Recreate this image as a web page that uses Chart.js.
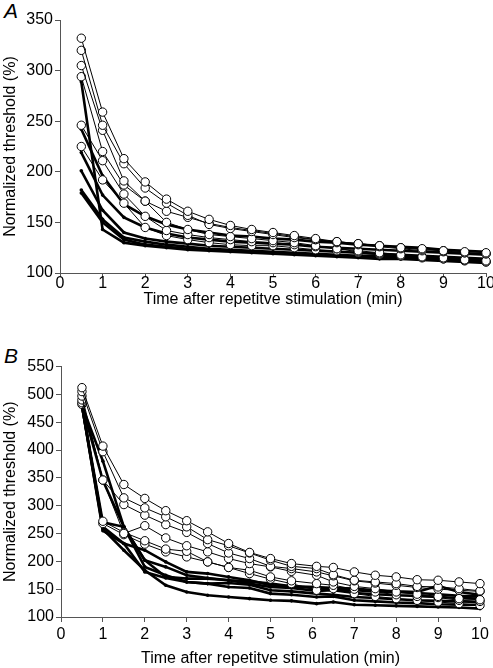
<!DOCTYPE html>
<html><head><meta charset="utf-8">
<script src="https://cdn.jsdelivr.net/npm/chart.js@4/dist/chart.umd.min.js"></script>
<style>
html,body{margin:0;padding:0;background:#fff;}
body{width:493px;height:668px;position:relative;overflow:hidden;font-family:"Liberation Sans",Arial,sans-serif;}
canvas{position:absolute;left:0;}
.lab{position:absolute;font-style:italic;font-size:21px;left:4px;line-height:1;color:#000;}
</style></head><body>
<div class="lab" style="top:0px">A</div>
<canvas id="cA" width="493" height="310" style="top:0"></canvas>
<div class="lab" style="top:345px">B</div>
<canvas id="cB" width="493" height="328" style="top:340px"></canvas>
<script>
// ---- data ----
const xTicks = [0,1,2,3,4,5,6,7,8,9,10];
const yTicksA = [100,150,200,250,300,350];
const yTicksB = [100,150,200,250,300,350,400,450,500,550];
const xTitle = "Time after repetitve stimulation (min)";
const yTitle = "Normalized threshold (%)";

const timesA = [0.5,1,1.5,2,2.5,3,3.5,4,4.5,5,5.5,6,6.5,7,7.5,8,8.5,9,9.5,10];
const A_open1 = [332,259,213,190,173,161,153,147,143,140,137,134,131,129,127,125,124,122,121,120];
const A_open2 = [320,246,208,184,169,157,148,144,141,138,135,133,131,129,127,125,123,122,120,119];
const A_open3 = [305,241,191,171,161,155,149,145,142,139,136,133,130,128,126,124,122,121,120,119];
const A_open4 = [294,220,187,171,150,143,138,136,134,132,130,127,124,122,120,118,116,115,113,112];
const A_open5 = [246,211,178,156,142,138,135,133,131,130,128,126,124,121,119,117,116,114,113,111];
const A_open6 = [225,192,169,145,137,133,130,128,127,127,125,123,122,120,118,117,115,114,112,111];
const A_fill1 = [289,143,130,127,125,123,122,121,120,119,118,117,116,115,114,114,113,112,111,110];
const A_fill2 = [242,196,168,156,148,143,140,137,136,134,133,131,130,128,127,126,125,123,122,121];
const A_fill3 = [219,177,155,145,139,135,133,131,130,129,128,126,125,124,123,122,121,120,119,118];
const A_fill4 = [201,162,140,134,131,129,127,126,125,124,123,122,121,120,119,118,117,116,115,114];
const A_fill5 = [182,153,135,131,128,126,124,123,122,121,120,119,118,117,117,116,115,115,114,113];
const A_fill6 = [179,150,133,128,126,124,123,122,121,120,119,118,117,116,115,115,114,113,112,111];

const timesB = [0.5,1,1.5,2,2.5,3,3.5,4,4.5,5,5.5,6.1,6.5,7,7.5,8,8.5,9,9.5,10];
const B_open1 = [512,407,338,313,291,273,253,232,216,205,196,191,189,181,175,172,167,166,163,160];
const B_open2 = [505,397,314,296,280,262,239,228,215,202,191,187,176,166,163,160,155,154,151,147];
const B_open3 = [497,346,302,283,266,252,232,215,205,191,187,181,174,165,161,157,153,150,148,146];
const B_open4 = [490,346,250,264,242,228,217,205,196,190,182,175,163,155,151,145,141,137,133,131];
const B_open5 = [485,272,252,237,222,218,199,189,184,172,165,160,157,150,145,140,137,135,130,128];
const B_open6 = [482,268,248,231,217,208,199,189,178,168,160,148,151,142,137,133,130,127,124,121];
const B_fill1 = [480,262,232,220,199,181,178,172,166,157,155,154,152,151,148,146,145,156,145,140];
const B_fill2 = [480,270,262,202,172,169,169,166,160,154,152,147,148,143,141,139,138,136,134,133];
const B_fill3 = [480,345,262,190,175,163,160,161,158,148,146,142,140,136,134,132,130,129,128,127];
const B_fill4 = [480,258,220,184,157,145,139,136,133,130,129,124,127,122,121,120,119,118,117,115];
const B_fill5 = [480,255,232,181,170,163,160,154,152,142,140,136,137,130,128,126,125,123,122,122];
const B_fill6 = [480,380,262,202,190,175,170,166,164,160,155,152,150,148,146,145,143,141,138,137];

// ---- drawing ----
Chart.defaults.font.family = '"Liberation Sans", Arial, sans-serif';
Chart.defaults.color = '#000';
const AXIS = '#555';

function pts(xs, ys){ return xs.map((x,i)=>({x:x, y:ys[i]})); }

function openDs(xs, ys){
  return {data:pts(xs,ys), borderColor:'#000', borderWidth:1, pointRadius:4.2,
    pointBackgroundColor:'#fff', pointBorderColor:'#000', pointBorderWidth:1,
    tension:0, clip:false};
}
function fillDs(xs, ys){
  return {data:pts(xs,ys), borderColor:'#000', borderWidth:2.6, pointRadius:1.8,
    pointBackgroundColor:'#000', pointBorderColor:'#000', pointBorderWidth:0,
    tension:0, clip:false};
}

function makeChart(id, xs, opens, fills, yTicks, g){
  const datasets = opens.map(s=>openDs(xs,s)).concat(fills.map(s=>fillDs(xs,s)));
  return new Chart(document.getElementById(id), {
    type:'line',
    data:{datasets:datasets},
    options:{
      responsive:false, animation:false, devicePixelRatio:1,
      layout:{padding:{top:g.top, right:g.right, left:0, bottom:0}},
      plugins:{legend:{display:false}, tooltip:{enabled:false}},
      scales:{
        x:{type:'linear', min:xTicks[0], max:xTicks[xTicks.length-1],
          ticks:{stepSize:1, font:{size:16}, padding:g.xTickPad, maxRotation:0, autoSkip:false},
          grid:{drawOnChartArea:false, drawTicks:true, tickLength:g.xTickLen, color:AXIS},
          border:{color:AXIS, width:1},
          title:{display:true, text:xTitle, font:{size:16}, padding:{top:0,bottom:g.xTitlePad}},
          afterFit:(s)=>{ s.height=g.xHeight; s.paddingLeft=0; s.paddingRight=0; }
        },
        y:{type:'linear', min:yTicks[0], max:yTicks[yTicks.length-1],
          ticks:{stepSize:yTicks[1]-yTicks[0], font:{size:16}, padding:2},
          grid:{drawOnChartArea:false, drawTicks:true, tickLength:5, color:AXIS},
          border:{color:AXIS, width:1},
          title:{display:true, text:yTitle, font:{size:16}, padding:{top:1,bottom:0}},
          afterFit:(s)=>{ s.width=g.yWidth; s.paddingTop=0; s.paddingBottom=0; }
        }
      }
    }
  });
}

makeChart('cA', timesA,
  [A_open1,A_open2,A_open3,A_open4,A_open5,A_open6],
  [A_fill1,A_fill2,A_fill3,A_fill4,A_fill5,A_fill6],
  yTicksA, {top:20, right:7, yWidth:60, xHeight:37, xTickLen:4, xTickPad:-3, xTitlePad:1});

makeChart('cB', timesB,
  [B_open1,B_open2,B_open3,B_open4,B_open5,B_open6],
  [B_fill1,B_fill2,B_fill3,B_fill4,B_fill5,B_fill6],
  yTicksB, {top:26.5, right:13, yWidth:61, xHeight:51, xTickLen:5, xTickPad:3, xTitlePad:0});
</script>
</body></html>
